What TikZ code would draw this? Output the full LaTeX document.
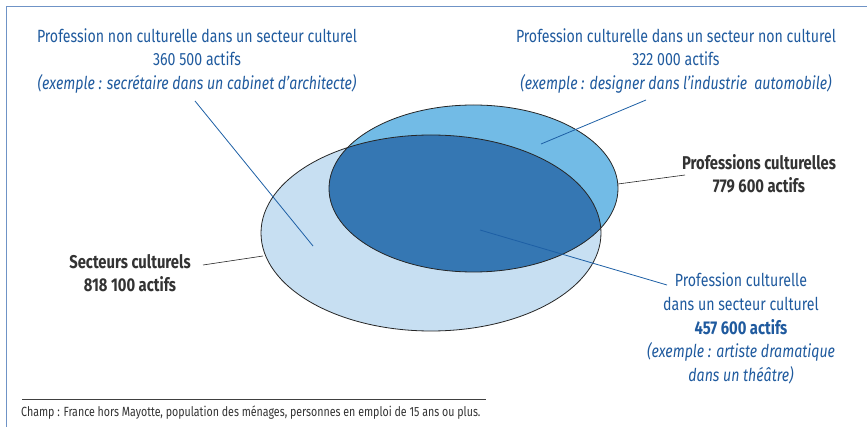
\documentclass[tikz,border=0pt]{standalone}
\usepackage{fontspec}
\setmainfont[FakeStretch=0.8]{Fira Sans}
\usetikzlibrary{positioning}
\definecolor{inseeblue}{HTML}{1F5A9E}
\definecolor{inseeline}{HTML}{1D5FA5}
\definecolor{inseedark}{HTML}{333333}
\definecolor{inseeframe}{HTML}{6F93C6}
\definecolor{setlight}{HTML}{C7DFF2}
\definecolor{setmid}{HTML}{72BBE6}
\definecolor{setdark}{HTML}{3577B3}

\begin{document}
\begin{tikzpicture}[x=1pt, y=-1pt,
  lbl/.style={align=center, text=inseeblue, inner sep=0pt,
    font=\fontsize{17.7}{23.8}\selectfont},
  keylbl/.style={align=center, text=inseedark, inner sep=0pt,
    font=\fontsize{18.5}{23.5}\selectfont\bfseries},
  lead/.style={inseeline, line width=0.8pt},
  leadk/.style={black!85, line width=0.6pt},
  setline/.style={draw=black!85, line width=0.8pt}]
  \useasboundingbox (0,0) rectangle (867,427);
  % cadre
  \draw[inseeframe, line width=1.6pt] (6.5,427) -- (6.5,6.5) -- (867,6.5);

  % ensembles
  \fill[setlight] (431,233) ellipse [x radius=170pt, y radius=98pt];
  \fill[setmid] (473.5,188.5) ellipse [x radius=144.5pt, y radius=83.5pt];
  \begin{scope}
    \clip (431,233) ellipse [x radius=170pt, y radius=98pt];
    \fill[setdark] (473.5,188.5) ellipse [x radius=144.5pt, y radius=83.5pt];
  \end{scope}
  \draw[setline] (431,233) ellipse [x radius=170pt, y radius=98pt];
  \draw[setline] (473.5,188.5) ellipse [x radius=144.5pt, y radius=83.5pt];

  % etiquettes
  \node[lbl] (nonprof) at (197,61) {Profession non culturelle dans un secteur culturel\\
    360 500 actifs\\ \textit{(exemple : secrétaire dans un cabinet d’architecte)}};
  \node[lbl] (nonsect) at (676,61) {Profession culturelle dans un secteur non culturel\\
    322 000 actifs\\ \textit{(exemple : designer dans l’industrie\ \ automobile)}};
  \node[keylbl] (prof) at (759,174) {Professions culturelles\\ 779 600 actifs};
  \node[keylbl] (sect) at (130,273) {Secteurs culturels\\ 818 100 actifs};
  \node[lbl] (both) at (741,328.5) {Profession culturelle\\ dans un secteur culturel\\
    {\fontsize{18.5}{23.8}\selectfont\bfseries 457 600 actifs}\\ \textit{(exemple : artiste dramatique}\\ \textit{dans un théâtre)}};

  % traits de rappel
  \coordinate (nonprofA) at (195,101);
  \coordinate (nonprofB) at (313,246);
  \coordinate (nonsectA) at (646,100);
  \coordinate (nonsectB) at (541,144);
  \coordinate (profA) at (685,175);
  \coordinate (profB) at (618,184);
  \coordinate (sectA) at (203,265);
  \coordinate (sectB) at (263,256);
  \coordinate (bothA) at (667,285);
  \coordinate (bothB) at (480,230);
  \draw[lead] (nonprofA) -- (nonprofB);
  \draw[lead] (nonsectA) -- (nonsectB);
  \draw[leadk] (profA) -- (profB);
  \draw[leadk] (sectA) -- (sectB);
  \draw[lead] (bothA) -- (bothB);

  % champ
  \coordinate (champL) at (22,399);
  \coordinate (champR) at (486,399);
  \draw[black!75, line width=0.6pt] (champL) -- (champR);
  \node[anchor=west, inner sep=0pt, text=inseedark, font=\fontsize{13.3}{15}\selectfont]
    (champ) at (21,413) {Champ : France hors Mayotte, population des ménages, personnes en emploi de 15 ans ou plus.};
\end{tikzpicture}
\end{document}
